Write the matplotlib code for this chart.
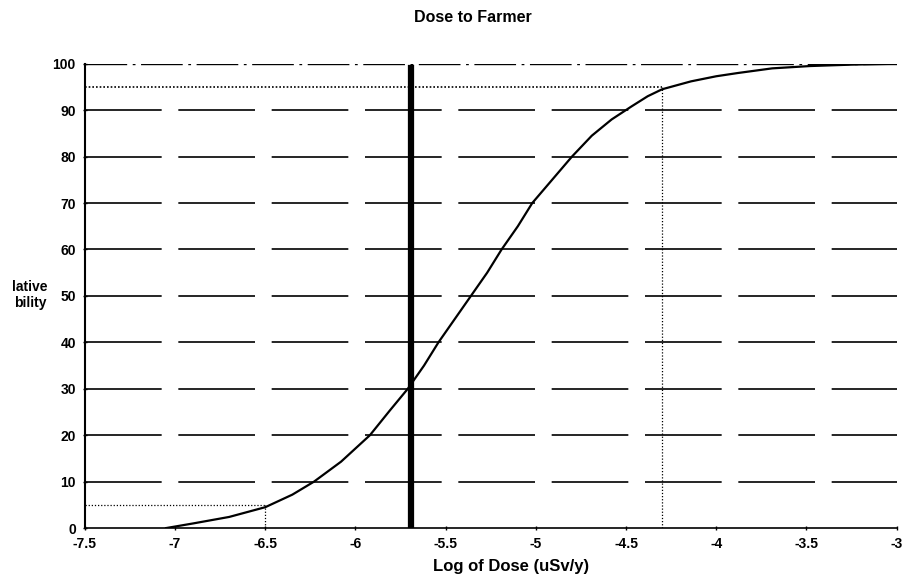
import matplotlib
matplotlib.use("Agg")
import matplotlib.pyplot as plt
import numpy as np

plt.rcParams['font.family'] = ['Liberation Sans', 'DejaVu Sans']

# cumulative curve
log_dose = [-7.05, -6.9, -6.7, -6.5, -6.35, -6.23, -6.08, -5.92, -5.81, -5.71,
            -5.62, -5.54, -5.45, -5.36, -5.27, -5.19, -5.1, -5.02, -4.91, -4.8,
            -4.69, -4.58, -4.47, -4.38, -4.3, -4.14, -4.0, -3.88, -3.69, -3.48,
            -3.25, -3.0]
cum_prob = [0, 1, 2.4, 4.5, 7.2, 10, 14.3, 20, 25.3, 30,
            35, 40, 45, 50, 55, 60, 65, 70, 75, 80,
            84.5, 88, 90.8, 93, 94.5, 96.2, 97.3, 98, 99, 99.5,
            99.8, 100]

x_ticks = [-7.5, -7, -6.5, -6, -5.5, -5, -4.5, -4, -3.5, -3]
x_labels = ['-7.5', '-7', '-6.5', '-6', '-5.5', '-5', '-4.5', '-4', '-3.5', '-3']
y_ticks = [0, 10, 20, 30, 40, 50, 60, 70, 80, 90, 100]

# percentile markers and the thick reference line
p5_x, p5_y = -6.5, 5
p95_x, p95_y = -4.3, 95
ref_x = -5.69

fig = plt.figure(figsize=(9.03, 5.74), dpi=100)
ax = fig.add_axes([0.094, 0.080, 0.899, 0.809])

# dashed gridlines
for y in y_ticks[1:-1]:
    ax.axhline(y, color='black', lw=1.2, ls=(0, (46, 10)), zorder=1)
ax.axhline(100, color='black', lw=1.0, ls=(0, (30, 4, 2, 4)), zorder=1)

# 5% / 95% dotted guides
ax.plot([-7.5, p5_x], [p5_y, p5_y], color='black', lw=0.9, ls=(0, (1, 1.5)))
ax.plot([p5_x, p5_x], [0, p5_y], color='black', lw=0.9, ls=(0, (1, 1.5)))
ax.plot([-7.5, p95_x], [p95_y, p95_y], color='black', lw=1.2, ls=(0, (1, 1.2)))
ax.plot([p95_x, p95_x], [0, p95_y], color='black', lw=0.9, ls=(0, (1, 1.5)))

ax.axvline(ref_x, ymin=0, ymax=0.99, color='black', lw=4.5, zorder=3)

ax.plot(log_dose, cum_prob, color='black', lw=1.6, zorder=4)

ax.set_xlim(-7.5, -3)
ax.set_ylim(0, 100)
ax.set_xticks(x_ticks)
ax.set_xticklabels(x_labels, fontsize=10, fontweight='bold')
ax.set_yticks(y_ticks)
ax.set_yticklabels([str(v) for v in y_ticks], fontsize=10, fontweight='bold')
ax.tick_params(axis='both', length=3, width=1, direction='inout', pad=5)

ax.spines['top'].set_visible(False)
ax.spines['right'].set_visible(False)
ax.spines['left'].set_linewidth(1.5)
ax.spines['bottom'].set_linewidth(1.2)

fig.text(473 / 903, 1 - 17 / 574, 'Dose to Farmer', ha='center', va='center',
         fontsize=11.5, fontweight='bold')
fig.text(511 / 903, 1 - 567 / 574, 'Log of Dose (uSv/y)', ha='center', va='center',
         fontsize=12, fontweight='bold')
fig.text(30 / 903, 1 - 295 / 574, 'lative\nbility', ha='center', va='center',
         fontsize=10, fontweight='bold', linespacing=1.1)

fig.savefig('out.png', dpi=100)
